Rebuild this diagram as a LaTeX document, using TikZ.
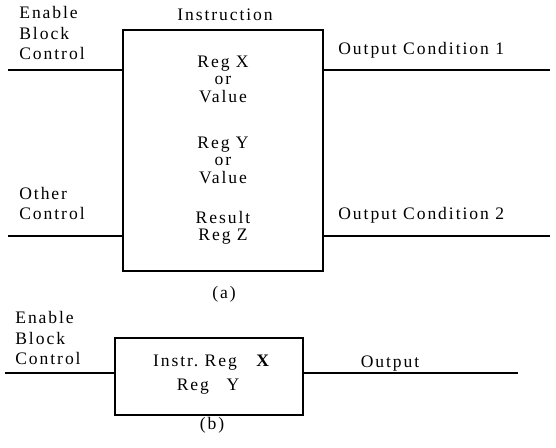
\documentclass[tikz,border=0pt]{standalone}
\usepackage{fontspec}
\setmainfont{Liberation Serif}[LetterSpace=11]
\usepackage{tikz}
\usetikzlibrary{calc}

\begin{document}
\begin{tikzpicture}
[block/.style={draw,line width=1pt,inner sep=0pt},
 wire/.style={line width=1pt},
 lbl/.style={align=left,inner sep=0pt,font=\fontsize{10}{11.5}\selectfont},
 txt/.style={align=center,inner sep=0pt,font=\fontsize{10}{10}\selectfont}]
\useasboundingbox (0,0) rectangle (11.12,8.94);
% (a)
\node (blka) at (4.46,5.93) [block,minimum width=4cm,minimum height=4.82cm] {};
\node (instr) at (4.5,8.64) [txt] {Instruction};
\node (ena) at (0.38,8.28) [lbl,anchor=west] {Enable\\Block\\Control};
\node (oth) at (0.38,4.87) [lbl,anchor=west] {Other\\Control};
\node (regx) at (4.46,7.36) [txt] {Reg X\\or\\Value};
\node (regy) at (4.46,5.74) [txt] {Reg Y\\or\\Value};
\node (regz) at (4.46,4.38) [txt] {Result\\Reg Z};
\node (oc1) at (6.76,7.94) [lbl,anchor=west] {Output Condition 1};
\node (oc2) at (6.76,4.64) [lbl,anchor=west] {Output Condition 2};
\node (capa) at (4.48,3.06) [txt] {(a)};
\coordinate (in1) at (0.16,7.54);
\coordinate (in2) at (0.16,4.22);
\coordinate (out1) at (11.0,7.54);
\coordinate (out2) at (11.0,4.22);
\draw [wire] (in1) -- (in1 -| blka.west);
\draw [wire] (in2) -- (in2 -| blka.west);
\draw [wire] (out1 -| blka.east) -- (out1);
\draw [wire] (out2 -| blka.east) -- (out2);
% (b)
\node (blkb) at (4.18,1.41) [block,minimum width=3.76cm,minimum height=1.54cm] {};
\node (enb) at (0.3,2.18) [lbl,anchor=west] {Enable\\Block\\Control};
\node (ireg) at (4.24,1.68) [txt] {Instr.\ Reg\quad\textbf{X}};
\node (rgy) at (4.16,1.2) [txt] {Reg\quad Y};
\node (outp) at (7.8,1.66) [txt] {Output};
\node (capb) at (4.24,0.44) [txt] {(b)};
\coordinate (in3) at (0.1,1.48);
\coordinate (out3) at (10.36,1.48);
\draw [wire] (in3) -- (in3 -| blkb.west);
\draw [wire] (out3 -| blkb.east) -- (out3);
\end{tikzpicture}
\end{document}
